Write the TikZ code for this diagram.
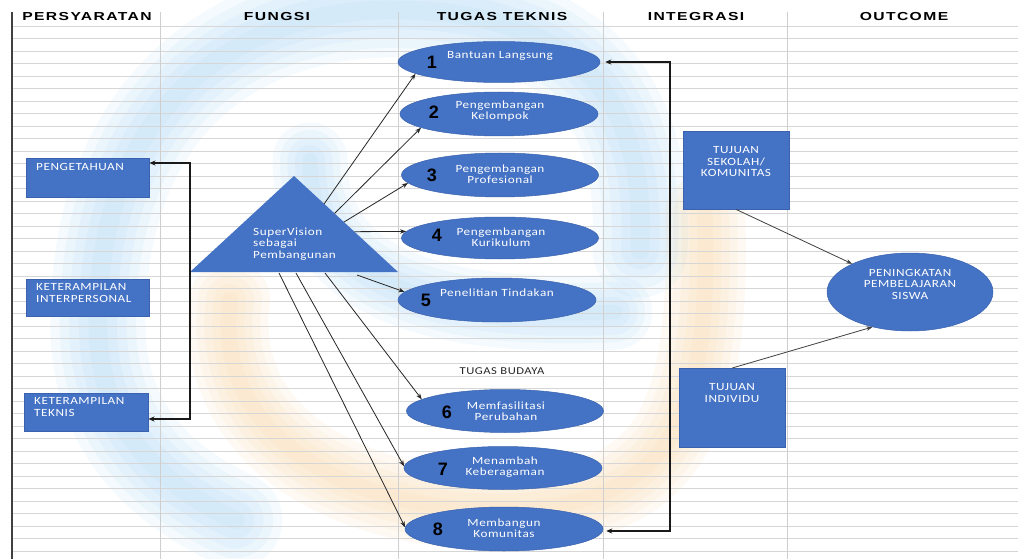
\documentclass[tikz,border=0pt]{standalone}
\usepackage{fontspec}
\setmainfont{Carlito}
\newfontfamily\hdrfont[FakeStretch=1.35,LetterSpace=12]{Liberation Sans}
\newfontfamily\lblfont[FakeStretch=1.2,LetterSpace=5]{Carlito}
\newfontfamily\numfont{Liberation Sans}
\usetikzlibrary{arrows.meta,calc,shapes.geometric}

\definecolor{officeblue}{HTML}{4472C4}
\definecolor{bluedge}{HTML}{3A62AE}
\definecolor{gridgray}{HTML}{D6D6D6}
\definecolor{colgray}{HTML}{CFCFCF}
\definecolor{hazeblue}{HTML}{A9D8F5}
\definecolor{hazeorange}{HTML}{FBD6A2}

% soft watermark band: the same path stroked several times, narrower each time
\newcommand\haze[3]{%
  \foreach \hw in {1,0.8,0.6,0.4,0.2}{%
    \draw[#1,line width=\hw*#2,opacity=0.12,line cap=round,line join=round] #3;}}

\tikzset{
  gridline/.style={draw=gridgray,line width=0.8},
  colline/.style={draw=colgray,line width=0.8},
  bluebox/.style={rectangle,draw=bluedge,line width=0.5,fill=officeblue,inner sep=0},
  blueoval/.style={ellipse,draw=bluedge,line width=0.5,fill=officeblue,inner sep=0},
  lbl/.style={text=white,font=\lblfont\fontsize{11}{11.5}\selectfont,inner sep=0,align=center},
  lblleft/.style={lbl,align=left,anchor=west},
  numlbl/.style={font=\numfont\bfseries\fontsize{18}{18}\selectfont,inner sep=0,text=black},
  hdr/.style={font=\hdrfont\bfseries\fontsize{11.6}{12}\selectfont,inner sep=0},
  conn/.style={-{Stealth[length=6,width=4.5]},line width=0.8,draw=black!85},
  softconn/.style={-{Stealth[length=6,width=4.5]},line width=0.8,draw=black!75},
  bracket/.style={{Stealth[length=6,width=5]}-{Stealth[length=6,width=5]},line width=1.3,draw=black!90},
}

\begin{document}
\begin{tikzpicture}[x=1pt,y=-1pt]
\useasboundingbox (0,0) rectangle (1018,559);
\fill[white] (0,0) rectangle (1018,559);

% watermark swirl
\haze{hazeblue}{95}{(640,250) .. controls (650,50) and (520,8) .. (380,10) .. controls (220,16) and (95,120) .. (98,330) .. controls (100,420) and (150,480) .. (235,520)}
\haze{hazeblue}{75}{(310,160) .. controls (310,290) and (450,320) .. (615,312)}
\haze{hazeorange}{80}{(230,300) .. controls (210,450) and (380,530) .. (560,505) .. controls (665,485) and (712,420) .. (705,215)}

% ruled sheet
\foreach \i in {0,...,42}
  \draw[gridline] (12,{26+12.5*\i}) -- (1018,{26+12.5*\i});
\foreach \cx in {160,398,603,787}
  \draw[colline] (\cx,12) -- (\cx,559);
\draw[draw=black!75,line width=1.2] (12,12) -- (12,559);

% column headings
\node[hdr] (h1) at (87,17) {PERSYARATAN};
\node[hdr] (h2) at (277,17) {FUNGSI};
\node[hdr] (h3) at (502,17) {TUGAS TEKNIS};
\node[hdr] (h4) at (696,17) {INTEGRASI};
\node[hdr] (h5) at (904,17) {OUTCOME};

% requirements
\node[bluebox,anchor=north west,minimum width=123,minimum height=39] (pk) at (26,158) {};
\node[bluebox,anchor=north west,minimum width=123,minimum height=37] (ki) at (26,279) {};
\node[bluebox,anchor=north west,minimum width=124,minimum height=38] (kt) at (24,393) {};
\node[lblleft] (pkt) at (36,167) {PENGETAHUAN};
\node[lblleft] (kit) at (36,293) {KETERAMPILAN\\INTERPERSONAL};
\node[lblleft] (ktt) at (34,407) {KETERAMPILAN\\TEKNIS};

% function triangle
\coordinate (tl) at (190,272);
\coordinate (tr) at (398,272);
\coordinate (tp) at (294,176);
\fill[officeblue] (tl) -- (tr) -- (tp) -- cycle;
\node[lblleft] (tri) at (253,244) {SuperVision\\sebagai\\Pembangunan};

% left bracket
\coordinate (lb1) at (190,163);
\coordinate (lb2) at (190,419);
\draw[bracket] (pk.east |- lb1) -- (lb1) -- (lb2) -- (kt.east |- lb2);

% technical tasks
\node[blueoval,minimum width=202,minimum height=41] (e1) at (499,62) {};
\node[blueoval,minimum width=198,minimum height=44] (e2) at (499,114) {};
\node[blueoval,minimum width=197,minimum height=44] (e3) at (500,175) {};
\node[blueoval,minimum width=197,minimum height=42] (e4) at (500,238) {};
\node[blueoval,minimum width=198,minimum height=44] (e5) at (497,300) {};
\node[lbl] (e1t) at (500,56) {Bantuan Langsung};
\node[lbl] (e2t) at (500,111) {Pengembangan\\Kelompok};
\node[lbl] (e3t) at (500,174) {Pengembangan\\Profesional};
\node[lbl] (e4t) at (501,237) {Pengembangan\\Kurikulum};
\node[lbl] (e5t) at (497,293) {Penelitian Tindakan};
\node[numlbl] (n1) at (432,62) {1};
\node[numlbl] (n2) at (434,112) {2};
\node[numlbl] (n3) at (432,175) {3};
\node[numlbl] (n4) at (437,235) {4};
\node[numlbl] (n5) at (426,300) {5};

% cultural tasks
\node[font=\lblfont\fontsize{10.5}{11}\selectfont,text=black!85,inner sep=0] (bud) at (502,371) {TUGAS BUDAYA};
\node[blueoval,minimum width=197,minimum height=43] (e6) at (505,411) {};
\node[blueoval,minimum width=198,minimum height=43] (e7) at (503,468) {};
\node[blueoval,minimum width=198,minimum height=44] (e8) at (504,529) {};
\node[lbl] (e6t) at (506,411) {Memfasilitasi\\Perubahan};
\node[lbl] (e7t) at (505,467) {Menambah\\Keberagaman};
\node[lbl] (e8t) at (504,528) {Membangun\\Komunitas};
\node[numlbl] (n6) at (447,412) {6};
\node[numlbl] (n7) at (443,469) {7};
\node[numlbl] (n8) at (438,529) {8};

% connectors from the triangle
\coordinate (s1) at ($(tp)!0.29!(tr)$);
\coordinate (s2) at ($(tp)!0.39!(tr)$);
\coordinate (s3) at ($(tp)!0.48!(tr)$);
\coordinate (s4) at ($(tp)!0.58!(tr)$);
\coordinate (s5) at (357,275);
\coordinate (s6) at (325,273);
\coordinate (s7) at (296,273);
\coordinate (s8) at (279,273);
\draw[conn] (s1) -- (e1.188);
\draw[conn] (s2) -- (e2.190);
\draw[conn] (s3) -- (e3.185);
\draw[conn] (s4) -- (e4.176);
\draw[conn] (s5) -- (e5.175);
\draw[conn] (s6) -- (e6.172);
\draw[conn] (s7) -- (e7.179);
\draw[conn] (s8) -- (e8.179);

% integration
\node[bluebox,anchor=north west,minimum width=106,minimum height=78] (sk) at (683,131) {};
\node[bluebox,anchor=north west,minimum width=106,minimum height=79] (ind) at (679,368) {};
\node[lbl] (skt) at (736,162) {TUJUAN\\SEKOLAH/\\KOMUNITAS};
\node[lbl] (indt) at (732,393) {TUJUAN\\INDIVIDU};

% right bracket
\coordinate (rb1) at (670,62);
\coordinate (rb2) at (670,531);
\draw[bracket,line width=1.1] ([xshift=5]e1.east) -- (rb1) -- (rb2) -- ([xshift=3]e8.east |- rb2);

% outcome
\node[blueoval,minimum width=166,minimum height=78] (out) at (910,292) {};
\node[lbl] (outt) at (910,284) {PENINGKATAN\\PEMBELAJARAN\\SISWA};
\draw[softconn] (sk.south) -- (out.154);
\draw[softconn] (ind.north) -- (out.223);
\end{tikzpicture}
\end{document}
